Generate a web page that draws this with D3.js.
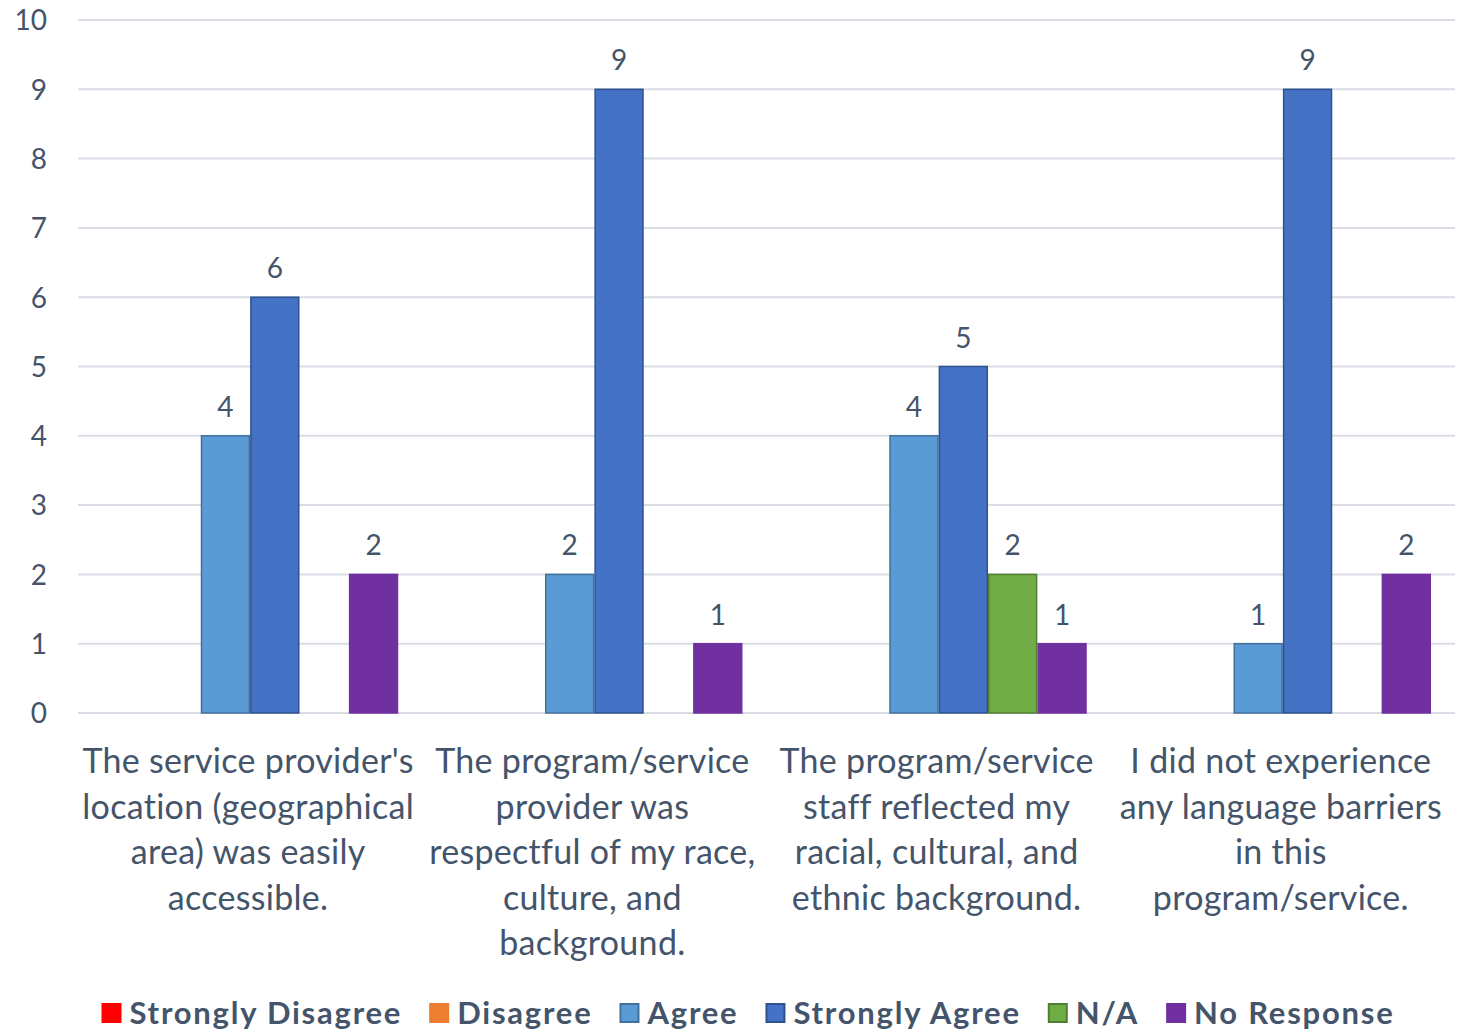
<!DOCTYPE html>
<html><head><meta charset="utf-8">
<script src="https://cdn.jsdelivr.net/npm/d3@7"></script>
<style>body{margin:0;background:#fff}svg{display:block}</style>
</head><body>
<svg id="c" width="1466" height="1032"></svg>
<script>
const categories = [
  ["The service provider's","location (geographical","area) was easily","accessible."],
  ["The program/service","provider was","respectful of my race,","culture, and","background."],
  ["The program/service","staff reflected my","racial, cultural, and","ethnic background."],
  ["I did not experience","any language barriers","in this","program/service."]
];
const seriesNames = ["Strongly Disagree","Disagree","Agree","Strongly Agree","N/A","No Response"];
const stronglyDisagree = [0,0,0,0];
const disagree = [0,0,0,0];
const agree = [4,2,4,1];
const stronglyAgree = [6,9,5,9];
const na = [0,0,2,0];
const noResponse = [2,1,1,2];
const yTicks = [0,1,2,3,4,5,6,7,8,9,10];
const fills = ["#ff0000","#ed7d31","#5b9bd5","#4472c4","#70ad47","#7030a0"];
const strokes = ["#ff0000","#ed7d31","#41719c","#2f528f","#507e32","#7030a0"];
const seriesValues = [stronglyDisagree,disagree,agree,stronglyAgree,na,noResponse];

const svg = d3.select("#c");
const FONT = "Lato, 'Open Sans', sans-serif";
const TXT = "#44546a";
const pLeft = 78, pRight = 1455, pTop = 20, pBottom = 713;

const y = d3.scaleLinear().domain([0,10]).range([pBottom, pTop]);
const x0 = d3.scaleBand().domain(d3.range(categories.length)).range([pLeft, pRight]).padding(0);
const x1 = d3.scaleBand().domain(d3.range(seriesNames.length)).range([24, x0.bandwidth()-24]).padding(0);

// gridlines
svg.append("g").selectAll("line").data(yTicks).join("line")
  .attr("x1", pLeft).attr("x2", pRight)
  .attr("y1", d => y(d)).attr("y2", d => y(d))
  .attr("stroke", "#d9dde3").attr("stroke-width", 2);

// y axis labels
const yAxis = d3.axisLeft(y).tickValues(yTicks).tickSize(0).tickPadding(0);
const ya = svg.append("g").attr("transform", `translate(47,0)`).call(yAxis);
ya.select(".domain").remove();
ya.selectAll("text").attr("font-family", FONT).attr("font-size", 28).attr("fill", TXT).attr("dy","0.35em");

// bars
const groups = svg.append("g").selectAll("g").data(categories).join("g")
  .attr("transform", (d,i) => `translate(${x0(i)},0)`);
groups.each(function(cat, ci){
  const g = d3.select(this);
  seriesValues.forEach((vals, si) => {
    const v = vals[ci];
    if (v > 0) {
      g.append("rect")
        .attr("x", x1(si)+0.75).attr("width", x1.bandwidth()-1.5)
        .attr("y", y(v)).attr("height", y(0)-y(v))
        .attr("fill", fills[si]).attr("stroke", strokes[si]).attr("stroke-width", 1.5);
      g.append("text").attr("x", x1(si)+x1.bandwidth()/2).attr("y", y(v)-19)
        .attr("text-anchor","middle").attr("font-family",FONT).attr("font-size",28)
        .attr("fill",TXT).text(v);
    }
  });
});

// category labels
groups.each(function(lines, ci){
  const g = d3.select(this);
  g.selectAll("text.cat").data(lines).join("text").attr("class","cat")
    .attr("x", x0.bandwidth()/2 - 2).attr("y", (d,i) => 773 + i*45.5)
    .attr("text-anchor","middle").attr("font-family",FONT).attr("font-size",34)
    .attr("letter-spacing", 0.3)
    .attr("fill",TXT).text(d => d);
});

// legend
const leg = svg.append("g");
const LFS = 31;
const texts = seriesNames.map((name, i) => {
  const it = leg.append("g");
  it.append("rect").attr("x",1).attr("y",-9).attr("width",18).attr("height",18)
    .attr("fill",fills[i]).attr("stroke",strokes[i]).attr("stroke-width",2);
  const t = it.append("text").attr("x",28).attr("y",11).attr("font-family",FONT)
    .attr("font-size",LFS).attr("font-weight","bold").attr("fill",TXT).text(name);
  return {it, t, name};
});
const targetText = 990;
let measured = 0, nChars = 0;
texts.forEach(o => { measured += o.t.node().getComputedTextLength(); nChars += o.name.length; });
const ls = Math.max(0, (targetText - measured) / nChars);
texts.forEach(o => o.t.attr("letter-spacing", ls));
let lx = 0;
texts.forEach(o => {
  o.it.attr("transform", `translate(${lx},0)`);
  lx += 28 + o.t.node().getComputedTextLength() + 27;
});
const totalW = lx - 27;
leg.attr("transform", `translate(${748 - totalW/2},1013)`);
</script>
</body></html>
